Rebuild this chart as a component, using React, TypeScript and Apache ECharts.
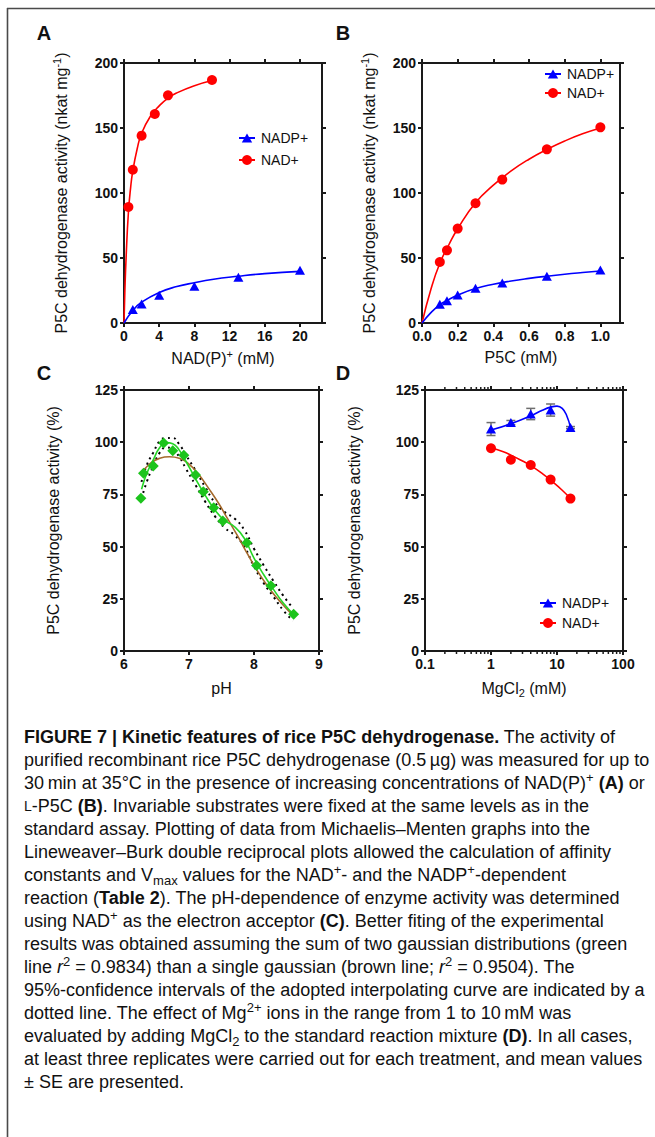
import React, { useEffect, useRef } from "react";
import * as echarts from "echarts";

// ---------------- data ----------------
// Panel A: activity vs NAD(P)+ (mM)
const aNadpX = [1, 2, 4, 8, 13, 20];
const aNadpY = [10.3, 14.6, 21.3, 28.2, 35.1, 40.5];
const aNadX = [0.5, 1, 2, 3.5, 5, 10];
const aNadY = [89.2, 117.9, 144.1, 160.8, 175.1, 186.9];
const aNadpFitX = [0, 1, 2, 4, 6, 8, 10, 13, 16, 20];
const aNadpFitY = [0, 9.6, 16, 23.5, 28, 31, 33.5, 36, 38, 39.7];
const aNadFitX = [0, 0.1, 0.25, 0.5, 0.75, 1, 1.5, 2, 3, 4, 5, 6, 8, 10];
const aNadFitY = [0, 25, 52, 85, 104, 117, 134, 146, 159, 167, 173, 177, 182.5, 186.5];
const aTicksX = [0, 4, 8, 12, 16, 20];
const aTicksY = [0, 50, 100, 150, 200];

// Panel B: activity vs P5C (mM)
const bX = [0.1, 0.14, 0.2, 0.3, 0.45, 0.7, 1.0];
const bNadpY = [14.4, 17.2, 21.5, 26.7, 30.8, 35.9, 40.8];
const bNadY = [46.9, 55.9, 72.6, 92.1, 110.3, 133.6, 150.5];
const bFitX = [0, 0.05, 0.1, 0.15, 0.2, 0.3, 0.4, 0.5, 0.6, 0.7, 0.8, 0.9, 1.0];
const bNadpFitY = [0, 8, 14, 18, 21.5, 26.5, 29.8, 32.3, 34.3, 36, 37.5, 38.8, 40];
const bNadFitY = [0, 26, 46, 60, 72.5, 92.5, 106, 117, 126, 133.5, 140, 145.5, 150];
const bTicksX = [0, 0.2, 0.4, 0.6, 0.8, 1.0];

// Panel C: activity (%) vs pH
const cPh = [6.26, 6.3, 6.45, 6.61, 6.75, 6.92, 7.1, 7.22, 7.38, 7.52, 7.89, 8.04, 8.26, 8.61];
const cAct = [73.1, 85.1, 88.6, 99.6, 95.9, 93.7, 84.3, 76.3, 68.6, 62.3, 51.9, 40.9, 31.3, 17.6];
const cGreenX = [6.27, 6.35, 6.45, 6.55, 6.65, 6.75, 6.85, 6.95, 7.1, 7.25, 7.4, 7.55, 7.7, 7.85, 8.0, 8.15, 8.3, 8.45, 8.62];
const cGreenY = [77.5, 85, 91.5, 97.5, 99.8, 99.3, 96.2, 91, 82.5, 74.5, 67.5, 62.5, 59.5, 54, 44.5, 36.5, 29.5, 23, 17.2];
const cBrownX = [6.27, 6.4, 6.55, 6.7, 6.85, 7.0, 7.15, 7.3, 7.45, 7.6, 7.75, 7.9, 8.05, 8.2, 8.35, 8.5, 8.6];
const cBrownY = [85, 89.8, 92.3, 93, 92.3, 89.5, 84.5, 78, 71, 63, 55, 46.5, 38.5, 31.5, 25.5, 20.3, 17.2];
const cBandX = [6.27, 6.35, 6.45, 6.55, 6.65, 6.75, 6.85, 6.95, 7.1, 7.25, 7.4, 7.55, 7.7, 7.85, 8.0, 8.15, 8.3, 8.45, 8.6];
const cUpperY = [81, 89, 95, 100.5, 102, 102, 99, 94, 86.5, 78.5, 71, 66.5, 63.5, 58, 49, 41, 33.5, 26.5, 20.5];
const cLowerY = [73, 81, 88.5, 95, 97.5, 96.5, 93, 87.5, 79.5, 71.5, 64.5, 59, 55.5, 50, 40.5, 32.5, 26, 19.5, 14.5];

// Panel D: activity (%) vs MgCl2 (mM), log axis
const dMg = [1, 2, 4, 8, 16];
const dNadpY = [106.3, 109.4, 113.5, 115.4, 107.0];
const dNadpSe = [3.1, 1.0, 2.7, 2.9, 0.5];
const dNadY = [97.1, 91.6, 89.1, 82.1, 73.0];
const dNadpFitX = [1, 2, 4, 6, 8, 10, 12, 14, 16];
const dNadpFitY = [105.8, 108.8, 112.6, 115.3, 116.8, 117.3, 116.2, 112.8, 107];
const dNadFitX = [1, 1.5, 2, 3, 4, 6, 8, 12, 16];
const dNadFitY = [97.3, 95.5, 93.8, 91, 88.8, 85, 81.8, 77, 73];
const dMinorTicks = [0.2, 0.3, 0.4, 0.5, 0.6, 0.7, 0.8, 0.9, 2, 3, 4, 5, 6, 7, 8, 9, 20, 30, 40, 50, 60, 70, 80, 90];

// Caption lines
const captionLines = [
  "{b|FIGURE 7 | Kinetic features of rice P5C dehydrogenase.} The activity of",
  "purified recombinant rice P5C dehydrogenase (0.5\u2009\u00b5g) was measured for up to",
  "30\u2009min at 35\u00b0C in the presence of increasing concentrations of NAD(P){sup|+} {b|(A)} or",
  "{sc|L}-P5C {b|(B)}. Invariable substrates were fixed at the same levels as in the",
  "standard assay. Plotting of data from Michaelis\u2013Menten graphs into the",
  "Lineweaver\u2013Burk double reciprocal plots allowed the calculation of affinity",
  "constants and V{sub|max} values for the NAD{sup|+}- and the NADP{sup|+}-dependent",
  "reaction ({b|Table 2}). The pH-dependence of enzyme activity was determined",
  "using NAD{sup|+} as the electron acceptor {b|(C)}. Better fiting of the experimental",
  "results was obtained assuming the sum of two gaussian distributions (green",
  "line {i|r}{sup|2} = 0.9834) than a single gaussian (brown line; {i|r}{sup|2} = 0.9504). The",
  "95%-confidence intervals of the adopted interpolating curve are indicated by a",
  "dotted line. The effect of Mg{sup|2+} ions in the range from 1 to 10\u2009mM was",
  "evaluated by adding MgCl{sub|2} to the standard reaction mixture {b|(D)}. In all cases,",
  "at least three replicates were carried out for each treatment, and mean values",
  "\u00b1 SE are presented.",
];

// ---------------- styles ----------------
const FF = "'Liberation Sans', Arial, Helvetica, sans-serif";
const INK = "#111111";
const AX = "#1a1a1a";
const BLUE = "#0000ff";
const RED = "#ff0000";
const GREEN = "#1cc41c";
const GREEN_LINE = "#25d625";
const BROWN = "#a56a2c";

const zip = (xs: number[], ys: number[]) => xs.map((x, i) => [x, ys[i]]);

const nameStyle = {
  fontFamily: FF,
  fontSize: 16,
  color: INK,
  lineHeight: 20,
  rich: {
    sup: { fontFamily: FF, fontSize: 11, color: INK, lineHeight: 11, verticalAlign: "top" },
    sub: { fontFamily: FF, fontSize: 11, color: INK, lineHeight: 11, verticalAlign: "bottom" },
  },
};

const axLine = { color: AX, width: 2 };

function makeAxis(dim: "x" | "y", gridIndex: number, main: boolean, min: number, max: number, o: any) {
  const position = dim === "x" ? (main ? "bottom" : "top") : main ? "left" : "right";
  const ax: any = {
    gridIndex,
    type: o.type || "value",
    position,
    min,
    max,
    axisLine: { show: true, onZero: false, lineStyle: axLine },
    axisTick: { show: true, inside: false, length: 4, lineStyle: axLine },
    axisLabel: {
      show: main,
      color: INK,
      fontFamily: FF,
      fontSize: 14,
      fontWeight: "bold",
      margin: 6,
    },
    splitLine: { show: false },
    minorTick: { show: false },
    minorSplitLine: { show: false },
    silent: true,
  };
  if (o.type === "log") ax.logBase = 10;
  if (o.interval != null) ax.interval = o.interval;
  if (o.ticks) {
    ax.axisTick.customValues = o.ticks;
    ax.axisLabel.customValues = o.ticks;
  }
  if (o.formatter) ax.axisLabel.formatter = o.formatter;
  if (main && o.name) {
    ax.name = o.name;
    ax.nameLocation = "middle";
    ax.nameGap = o.nameGap;
    ax.nameTextStyle = nameStyle;
    if (dim === "y") ax.nameRotate = 90;
  }
  return ax;
}

function legendItem(cx: number, cy: number, kind: "tri" | "dot", color: string, label: string) {
  return {
    type: "group",
    silent: true,
    children: [
      { type: "line", shape: { x1: cx - 8, y1: cy, x2: cx + 8, y2: cy }, style: { stroke: color, lineWidth: 2 } },
      kind === "tri"
        ? {
            type: "polygon",
            shape: { points: [[cx, cy - 4.5], [cx + 5.2, cy + 4.5], [cx - 5.2, cy + 4.5]] },
            style: { fill: color },
          }
        : { type: "circle", shape: { cx, cy, r: 5 }, style: { fill: color } },
      {
        type: "text",
        x: cx + 14,
        y: cy,
        style: {
          text: label,
          fontFamily: FF,
          fontSize: 14,
          fill: INK,
          textAlign: "left",
          textVerticalAlign: "middle",
          align: "left",
          verticalAlign: "middle",
        },
      },
    ],
  };
}

function panelLetter(x: number, y: number, t: string) {
  return {
    type: "text",
    x,
    y,
    silent: true,
    style: {
      text: t,
      fontFamily: FF,
      fontSize: 20,
      fontWeight: "bold",
      fill: INK,
      textAlign: "center",
      textVerticalAlign: "middle",
      align: "center",
      verticalAlign: "middle",
    },
  };
}

const capRich = {
  b: { fontFamily: FF, fontSize: 18, fontWeight: "bold", fill: INK, lineHeight: 24 },
  i: { fontFamily: FF, fontSize: 18, fontStyle: "italic", fill: INK, lineHeight: 24 },
  sup: { fontFamily: FF, fontSize: 13, fill: INK, lineHeight: 13, verticalAlign: "top" },
  sub: { fontFamily: FF, fontSize: 13, fill: INK, lineHeight: 13, verticalAlign: "bottom" },
  sc: { fontFamily: FF, fontSize: 14, fill: INK, lineHeight: 24 },
};

function buildOption(): any {
  const fitLine = (name: string, xi: number, data: number[][], color: string, extra: any = {}) => ({
    type: "line",
    name,
    xAxisIndex: xi,
    yAxisIndex: xi,
    data,
    smooth: 0.5,
    symbol: "none",
    silent: true,
    z: 2,
    lineStyle: { color, width: 1.6, ...extra },
  });
  const points = (name: string, xi: number, data: number[][], color: string, symbol: string, size: any) => ({
    type: "scatter",
    name,
    xAxisIndex: xi,
    yAxisIndex: xi,
    data,
    symbol,
    symbolSize: size,
    silent: true,
    z: 4,
    itemStyle: { color, opacity: 1 },
  });

  const graphic: any[] = [
    // frame
    { type: "line", silent: true, shape: { x1: 7, y1: 8.5, x2: 655, y2: 8.5 }, style: { stroke: "#4a4a4a", lineWidth: 1.6 } },
    { type: "line", silent: true, shape: { x1: 7.5, y1: 8, x2: 7.5, y2: 1137 }, style: { stroke: "#4a4a4a", lineWidth: 1.6 } },
    panelLetter(44, 33, "A"),
    panelLetter(343, 33, "B"),
    panelLetter(44, 373, "C"),
    panelLetter(343, 373, "D"),
    legendItem(247, 138, "tri", BLUE, "NADP+"),
    legendItem(247, 160, "dot", RED, "NAD+"),
    legendItem(553, 74, "tri", BLUE, "NADP+"),
    legendItem(553, 93, "dot", RED, "NAD+"),
    legendItem(548, 603, "tri", BLUE, "NADP+"),
    legendItem(548, 623, "dot", RED, "NAD+"),
  ];
  captionLines.forEach((line, i) => {
    graphic.push({
      type: "text",
      x: 24,
      y: 737 + 23 * i,
      silent: true,
      style: {
        text: line,
        fontFamily: FF,
        fontSize: 18,
        fill: INK,
        lineHeight: 24,
        rich: capRich,
        textAlign: "left",
        textVerticalAlign: "middle",
        align: "left",
        verticalAlign: "middle",
      },
    });
  });

  return {
    animation: false,
    backgroundColor: "#ffffff",
    textStyle: { fontFamily: FF },
    grid: [
      { left: 124, top: 63, width: 198, height: 260, outerBoundsMode: "none" },
      { left: 422, top: 63, width: 198, height: 260, outerBoundsMode: "none" },
      { left: 124, top: 390, width: 195, height: 261, outerBoundsMode: "none" },
      { left: 425, top: 390, width: 198, height: 261, outerBoundsMode: "none" },
    ],
    xAxis: [
      makeAxis("x", 0, true, 0, 22.5, { ticks: aTicksX, name: "NAD(P){sup|+} (mM)", nameGap: 25 }),
      makeAxis("x", 0, false, 0, 22.5, { ticks: aTicksX }),
      makeAxis("x", 1, true, 0, 1.11, {
        ticks: bTicksX,
        name: "P5C (mM)",
        nameGap: 24,
        formatter: (v: number) => v.toFixed(1),
      }),
      makeAxis("x", 1, false, 0, 1.11, { ticks: bTicksX }),
      makeAxis("x", 2, true, 6, 9, { interval: 1, name: "pH", nameGap: 27 }),
      makeAxis("x", 2, false, 6, 9, { interval: 1 }),
      makeAxis("x", 3, true, 0.1, 100, {
        type: "log",
        name: "MgCl{sub|2} (mM)",
        nameGap: 27,
        formatter: (v: number) => (v < 1 ? v.toFixed(1) : String(Math.round(v))),
      }),
      makeAxis("x", 3, false, 0.1, 100, { type: "log" }),
    ],
    yAxis: [
      makeAxis("y", 0, true, 0, 200, {
        ticks: aTicksY,
        interval: 50,
        name: "P5C dehydrogenase activity (nkat mg{sup|-1})",
        nameGap: 53,
      }),
      makeAxis("y", 0, false, 0, 200, { ticks: aTicksY, interval: 50 }),
      makeAxis("y", 1, true, 0, 200, {
        ticks: aTicksY,
        interval: 50,
        name: "P5C dehydrogenase activity (nkat mg{sup|-1})",
        nameGap: 43,
      }),
      makeAxis("y", 1, false, 0, 200, { ticks: aTicksY, interval: 50 }),
      makeAxis("y", 2, true, 0, 125, { interval: 25, name: "P5C dehydrogenase activity (%)", nameGap: 61 }),
      makeAxis("y", 2, false, 0, 125, { interval: 25 }),
      makeAxis("y", 3, true, 0, 125, { interval: 25, name: "P5C dehydrogenase activity (%)", nameGap: 61 }),
      makeAxis("y", 3, false, 0, 125, { interval: 25 }),
    ],
    series: [
      // Panel A
      fitLine("NAD+ fit A", 0, zip(aNadFitX, aNadFitY), RED),
      fitLine("NADP+ fit A", 0, zip(aNadpFitX, aNadpFitY), BLUE),
      points("NAD+", 0, zip(aNadX, aNadY), RED, "circle", 10),
      points("NADP+", 0, zip(aNadpX, aNadpY), BLUE, "triangle", [10, 9]),
      // Panel B
      fitLine("NAD+ fit B", 2, zip(bFitX, bNadFitY), RED),
      fitLine("NADP+ fit B", 2, zip(bFitX, bNadpFitY), BLUE),
      points("NAD+", 2, zip(bX, bNadY), RED, "circle", 10),
      points("NADP+", 2, zip(bX, bNadpY), BLUE, "triangle", [10, 9]),
      // Panel C
      fitLine("95% CI upper", 4, zip(cBandX, cUpperY), "#000000", { width: 2, type: [2, 4] }),
      fitLine("95% CI lower", 4, zip(cBandX, cLowerY), "#000000", { width: 2, type: [2, 4] }),
      fitLine("single gaussian", 4, zip(cBrownX, cBrownY), BROWN),
      fitLine("two gaussians", 4, zip(cGreenX, cGreenY), GREEN_LINE),
      points("pH activity", 4, zip(cPh, cAct), GREEN, "diamond", 11),
      // Panel D
      {
        type: "custom",
        name: "SE",
        xAxisIndex: 6,
        yAxisIndex: 6,
        silent: true,
        clip: false,
        z: 1,
        data: dMg.map((x, i) => [x, dNadpY[i] - dNadpSe[i], dNadpY[i] + dNadpSe[i]]),
        renderItem: (params: any, api: any) => {
          const lo = api.coord([api.value(0), api.value(1)]);
          const hi = api.coord([api.value(0), api.value(2)]);
          const st = { stroke: "#6e6e6e", lineWidth: 1.5 };
          return {
            type: "group",
            children: [
              { type: "line", shape: { x1: lo[0], y1: lo[1], x2: hi[0], y2: hi[1] }, style: st },
              { type: "line", shape: { x1: hi[0] - 4.5, y1: hi[1], x2: hi[0] + 4.5, y2: hi[1] }, style: st },
              { type: "line", shape: { x1: lo[0] - 4.5, y1: lo[1], x2: lo[0] + 4.5, y2: lo[1] }, style: st },
            ],
          };
        },
      },
      fitLine("NAD+ fit D", 6, zip(dNadFitX, dNadFitY), RED),
      fitLine("NADP+ fit D", 6, zip(dNadpFitX, dNadpFitY), BLUE),
      points("NAD+", 6, zip(dMg, dNadY), RED, "circle", 10),
      points("NADP+", 6, zip(dMg, dNadpY), BLUE, "triangle", [10, 9]),
      {
        type: "custom",
        name: "log minor ticks",
        xAxisIndex: 6,
        yAxisIndex: 6,
        silent: true,
        clip: false,
        z: 5,
        data: dMinorTicks.map((v) => [v, 50]),
        renderItem: (params: any, api: any) => {
          const x = api.coord([api.value(0), 50])[0];
          const cs = params.coordSys;
          const bottom = cs.y + cs.height;
          const top = cs.y;
          const st = { stroke: AX, lineWidth: 1.5 };
          return {
            type: "group",
            children: [
              { type: "line", shape: { x1: x, y1: bottom + 1, x2: x, y2: bottom + 3 }, style: st },
              { type: "line", shape: { x1: x, y1: top - 1, x2: x, y2: top - 3 }, style: st },
            ],
          };
        },
      },
    ],
    graphic,
  };
}

export default function App() {
  const ref = useRef<HTMLDivElement>(null);
  useEffect(() => {
    if (!ref.current) return;
    const chart = echarts.init(ref.current, undefined, { renderer: "svg" });
    chart.setOption(buildOption());
    return () => chart.dispose();
  }, []);
  return (
    <div
      ref={ref}
      style={{ position: "absolute", left: 0, top: 0, width: 655, height: 1137, background: "#ffffff" }}
    />
  );
}
